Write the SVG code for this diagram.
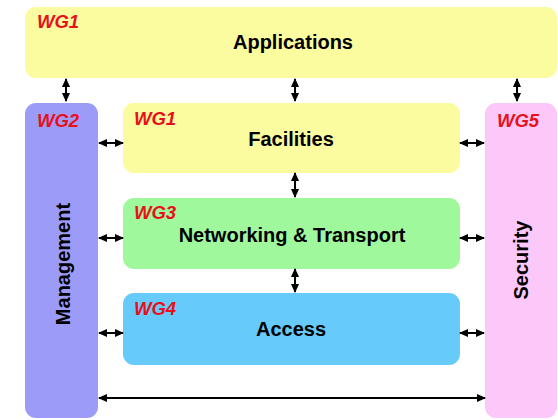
<svg xmlns="http://www.w3.org/2000/svg" width="558" height="420" viewBox="0 0 558 420">
  <style>
    .wg { font-family: "Liberation Sans", Arial, sans-serif; font-weight: bold; font-style: italic; font-size: 18.5px; fill: #e8101a; }
    .lbl { font-family: "Liberation Sans", Arial, sans-serif; font-weight: bold; font-size: 20px; fill: #000; text-anchor: middle; }
    .conn line { stroke: #000; stroke-width: 2; marker-start: url(#head); marker-end: url(#head); }
  </style>
  <defs>
    <marker id="head" markerUnits="userSpaceOnUse" markerWidth="9" markerHeight="8" refX="8" refY="4" orient="auto-start-reverse">
      <path d="M0,0 L9,4 L0,8 Z" fill="#000"/>
    </marker>
  </defs>
  <rect width="558" height="420" fill="#fff"/>

  <g id="applications">
    <rect x="25" y="7" width="532" height="71" rx="11" fill="#fbfba0"/>
    <text class="wg" x="37" y="28">WG1</text>
    <text class="lbl" x="293" y="49">Applications</text>
  </g>

  <g id="management">
    <rect x="25" y="103" width="73" height="315" rx="11" fill="#9c9cf8"/>
    <text class="wg" x="37" y="127">WG2</text>
    <text class="lbl" transform="translate(70,264) rotate(-90)">Management</text>
  </g>

  <g id="security">
    <rect x="485" y="103" width="72" height="315" rx="11" fill="#fcc8fa"/>
    <text class="wg" x="497" y="127">WG5</text>
    <text class="lbl" transform="translate(528,260) rotate(-90)">Security</text>
  </g>

  <g id="facilities">
    <rect x="123" y="103" width="337" height="70" rx="11" fill="#fbfba0"/>
    <text class="wg" x="134" y="125">WG1</text>
    <text class="lbl" x="291" y="146">Facilities</text>
  </g>

  <g id="networking">
    <rect x="123" y="198" width="337" height="71" rx="11" fill="#a0f89c"/>
    <text class="wg" x="134" y="219">WG3</text>
    <text class="lbl" x="292" y="242">Networking &amp; Transport</text>
  </g>

  <g id="access">
    <rect x="123" y="293" width="337" height="72" rx="11" fill="#66cbfb"/>
    <text class="wg" x="134" y="315">WG4</text>
    <text class="lbl" x="291" y="336">Access</text>
  </g>

  <g id="connectors" class="conn">
    <line x1="66" y1="79" x2="66" y2="101"/>
    <line x1="295" y1="79" x2="295" y2="101"/>
    <line x1="517" y1="79" x2="517" y2="101"/>
    <line x1="295" y1="173" x2="295" y2="197"/>
    <line x1="295" y1="269" x2="295" y2="292"/>
    <line x1="99" y1="143" x2="123" y2="143"/>
    <line x1="99" y1="238" x2="123" y2="238"/>
    <line x1="99" y1="333" x2="123" y2="333"/>
    <line x1="460" y1="143" x2="484" y2="143"/>
    <line x1="460" y1="238" x2="484" y2="238"/>
    <line x1="460" y1="333" x2="484" y2="333"/>
    <line x1="99" y1="398" x2="485" y2="398"/>
  </g>
</svg>
